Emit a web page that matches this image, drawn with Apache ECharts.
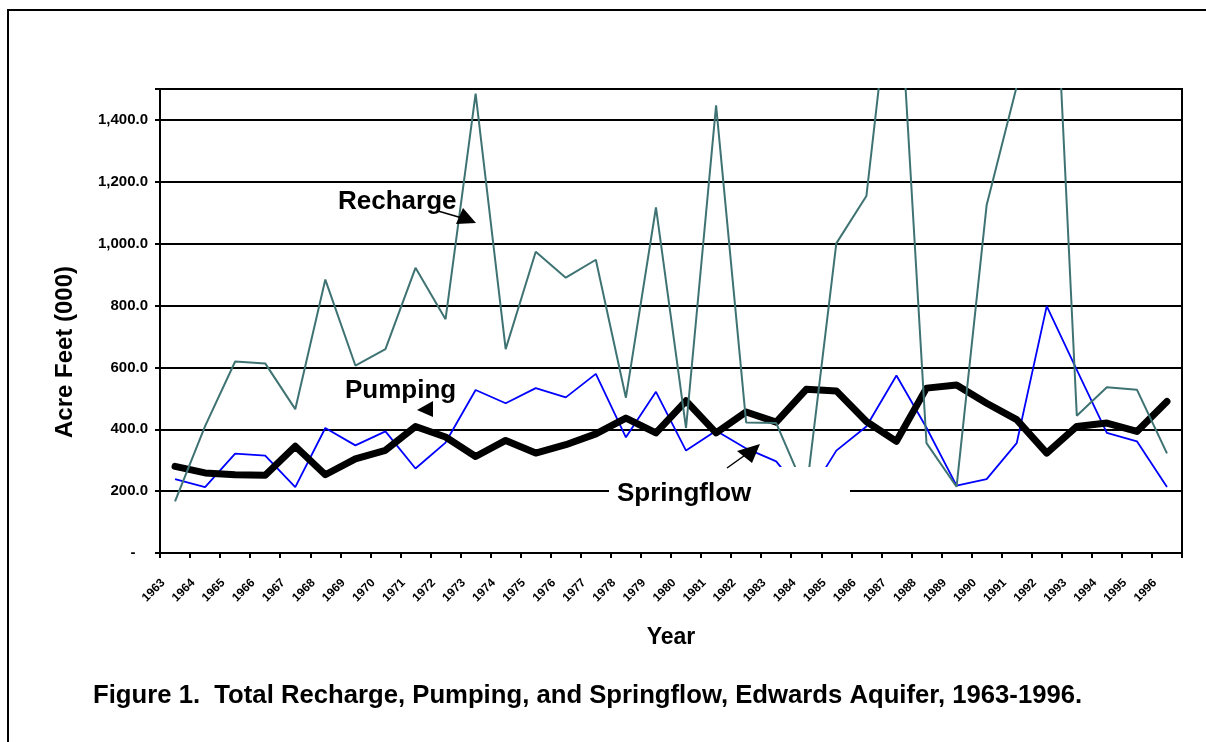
<!DOCTYPE html>
<html>
<head>
<meta charset="utf-8">
<title>Edwards Aquifer</title>
<script src="https://cdn.jsdelivr.net/npm/echarts@6/dist/echarts.min.js"></script>
<style>
  html, body { margin: 0; padding: 0; background: #fff; }
  #chart { width: 1206px; height: 742px; }
</style>
</head>
<body>
<div id="chart"></div>
<script>
// 年份
var years = ['1963','1964','1965','1966','1967','1968','1969','1970','1971','1972',
             '1973','1974','1975','1976','1977','1978','1979','1980','1981','1982',
             '1983','1984','1985','1986','1987','1988','1989','1990','1991','1992',
             '1993','1994','1995','1996'];

// Recharge (thin teal line)
var recharge = [167, 410, 619, 613, 465, 884, 606, 659, 922, 756,
                1485, 659, 974, 890, 948, 502, 1117, 404, 1447, 422,
                420, 195, 1001, 1154, 2004, 355, 214, 1124, 1508, 2486,
                444, 536, 528, 322];

// Pumping (thick black line)
var pumping = [280, 259, 253, 251, 345, 253, 304, 332, 409, 375,
               312, 364, 323, 350, 385, 436, 388, 492, 388, 456,
               423, 529, 524, 425, 361, 533, 543, 484, 431, 323,
               409, 420, 393, 490];

// Springflow (thin blue line)
var springflow = [239, 213, 321, 315, 213, 404, 348, 393, 273, 357,
                  527, 484, 533, 503, 579, 374, 521, 331, 395, 338,
                  296, 175, 331, 409, 574, 405, 218, 239, 355, 798,
                  592, 388, 361, 213];

var yTicks = { min: 0, max: 1500, step: 200 };

var FONT = "'Liberation Sans', Arial, Helvetica, sans-serif";

function fmtY(v) {
    if (v === 0) return '-   ';
    if (v === yTicks.max) return '';
    var s = v.toFixed(1);
    var p = s.split('.');
    p[0] = p[0].replace(/\B(?=(\d{3})+(?!\d))/g, ',');
    return p.join('.');
}

var myChart = echarts.init(document.getElementById('chart'), null, { renderer: 'canvas' });

var option = {
    backgroundColor: '#fff',
    animation: false,
    textStyle: { fontFamily: FONT },
    title: {
        text: 'Figure 1.  Total Recharge, Pumping, and Springflow, Edwards Aquifer, 1963-1996.',
        left: 88,
        top: 678,
        textStyle: { fontFamily: FONT, fontSize: 25.7, fontWeight: 'bold', color: '#000' }
    },
    grid: {
        left: 160, right: 24, top: 89, bottom: 189,
        show: true, borderColor: '#000', borderWidth: 2, backgroundColor: 'transparent'
    },
    xAxis: {
        type: 'category',
        data: years,
        boundaryGap: true,
        name: 'Year',
        nameLocation: 'middle',
        nameGap: 73,
        nameTextStyle: { fontFamily: FONT, fontSize: 23, fontWeight: 'bold', color: '#000' },
        axisLine: { lineStyle: { color: '#000', width: 2 } },
        axisTick: { show: true, length: 5, interval: 0, lineStyle: { color: '#000', width: 2 } },
        axisLabel: {
            interval: 0, rotate: 45, margin: 16, padding: [0, 17, 0, 0],
            fontFamily: FONT, fontSize: 12, fontWeight: 'bold', color: '#000'
        },
        splitLine: { show: false }
    },
    yAxis: {
        type: 'value',
        min: yTicks.min,
        max: yTicks.max,
        interval: yTicks.step,
        name: 'Acre Feet (000)',
        nameLocation: 'middle',
        nameGap: 83,
        nameTextStyle: {
            fontFamily: FONT, fontSize: 24, fontWeight: 'bold', color: '#000',
            padding: [0, 62, 0, 0]
        },
        axisLine: { show: true, lineStyle: { color: '#000', width: 2 } },
        axisTick: { show: true, length: 5, lineStyle: { color: '#000', width: 2 } },
        axisLabel: {
            margin: 12, formatter: fmtY,
            fontFamily: FONT, fontSize: 15, fontWeight: 'bold', color: '#000'
        },
        splitLine: { show: true, lineStyle: { color: '#000', width: 2 } }
    },
    series: [
        {
            name: 'Springflow',
            type: 'line',
            data: springflow,
            symbol: 'none',
            z: 3,
            lineStyle: { color: '#0000ff', width: 1.8 }
        },
        {
            name: 'Pumping',
            type: 'line',
            data: pumping,
            symbol: 'none',
            z: 4,
            lineStyle: { color: '#000', width: 7, join: 'round', cap: 'round' }
        },
        {
            name: 'Recharge',
            type: 'line',
            data: recharge,
            symbol: 'none',
            z: 5,
            lineStyle: { color: '#3f7373', width: 2 }
        }
    ],
    graphic: [
        // outer frame (top + left)
        { type: 'polyline', z: 50, shape: { points: [[8, 760], [8, 10], [1220, 10]] },
          style: { stroke: '#000', lineWidth: 2, fill: null } },
        // Springflow label box (white, hides lines behind it)
        { type: 'rect', z: 100, shape: { x: 609, y: 467, width: 241, height: 55 },
          style: { fill: '#fff' } },
        { type: 'text', z: 101, left: 617, top: 481,
          style: { text: 'Springflow', font: 'bold 26px ' + FONT, fill: '#000' } },
        { type: 'text', z: 101, left: 338, top: 189,
          style: { text: 'Recharge', font: 'bold 26px ' + FONT, fill: '#000' } },
        { type: 'text', z: 101, left: 345, top: 378,
          style: { text: 'Pumping', font: 'bold 26px ' + FONT, fill: '#000' } },
        // arrows
        { type: 'line', z: 102, shape: { x1: 438, y1: 211, x2: 462, y2: 218 },
          style: { stroke: '#000', lineWidth: 1.5 } },
        { type: 'polygon', z: 102, shape: { points: [[476, 223], [456, 224], [463, 208]] },
          style: { fill: '#000' } },
        { type: 'polygon', z: 102, shape: { points: [[417, 410], [433, 401], [433, 417]] },
          style: { fill: '#000' } },
        { type: 'line', z: 102, shape: { x1: 727, y1: 468, x2: 748, y2: 453 },
          style: { stroke: '#000', lineWidth: 1.5 } },
        { type: 'polygon', z: 102, shape: { points: [[760, 444], [737, 451], [752, 463]] },
          style: { fill: '#000' } }
    ]
};

myChart.setOption(option);

window.addEventListener('resize', function () {
    myChart.resize();
});
</script>
</body>
</html>
